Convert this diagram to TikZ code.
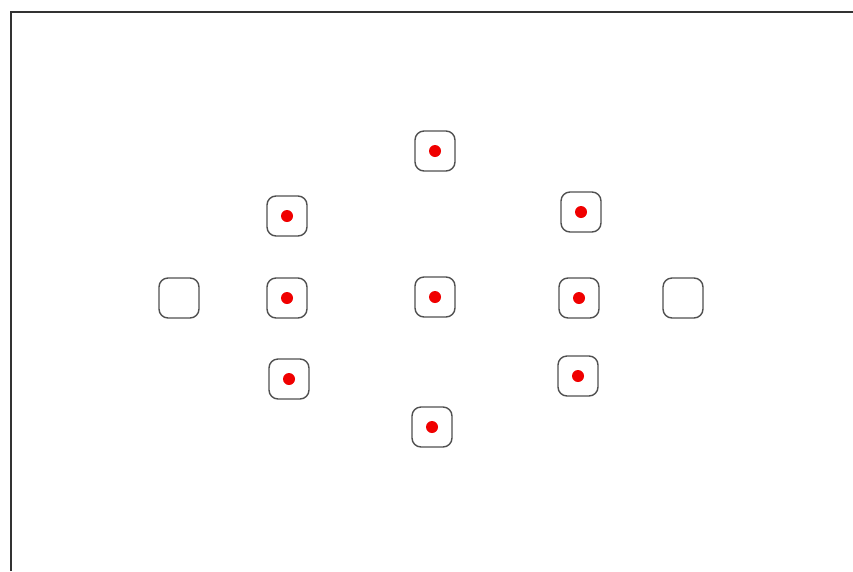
\documentclass[tikz,border=0pt]{standalone}
\usepackage{tikz}
\definecolor{framegray}{RGB}{50, 50, 50}
\definecolor{boxgray}{RGB}{80, 80, 80}
\definecolor{dotred}{RGB}{240, 0, 0}
\usetikzlibrary{positioning}

\tikzset{
    afpoint/.style={draw=boxgray, line width=1.4pt, rounded corners=9pt,
        minimum size=40pt, inner sep=0pt, fill=white},
    afdot/.style={circle, fill=dotred, minimum size=12pt, inner sep=0pt}
}

\begin{document}
\begin{tikzpicture}[x=1pt, y=-1pt]
    \useasboundingbox (0,0) rectangle (853,571);
    % outer frame, only top and left edges show
    \draw[framegray, line width=2pt] (11,571) -- (11,12) -- (853,12);

    % active points
    \foreach \name/\px/\py in {top/435/151, upleft/287/216, upright/581/212,
            left/287/298, mid/435/297, right/579/298,
            lowleft/289/379, lowright/578/376, bottom/432/427} {
        \node[afpoint] (\name) at (\px,\py) {};
        \node[afdot] (\name-dot) at (\name.center) {};
    }

    % outer points without dot
    \node[afpoint] (farleft) at (179,298) {};
    \node[afpoint] (farright) at (683,298) {};
\end{tikzpicture}
\end{document}
